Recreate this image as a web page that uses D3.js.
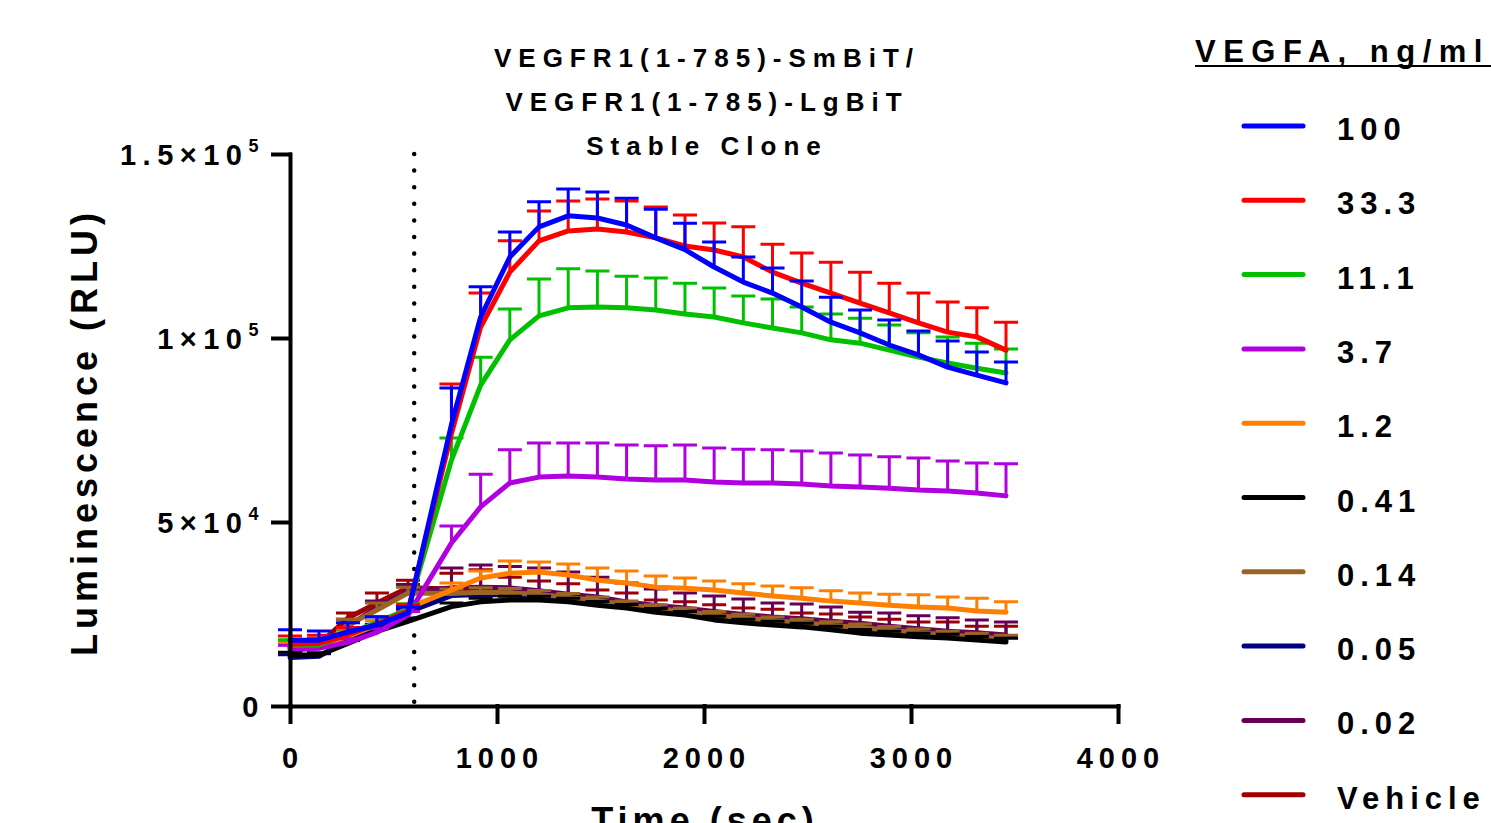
<!DOCTYPE html>
<html lang="en">
<head>
  <meta charset="UTF-8">
  <title>VEGFR1 NanoBiT kinetics</title>
  <style>
    body { margin: 0; background: #fff; }
    svg { display: block; font-family: "Liberation Sans", Arial, sans-serif; font-weight: bold; }
  </style>
</head>
<body>
  <script src="https://d3js.org/d3.v7.min.js"></script>
  <script>
    // time points (sec); VEGFA added at 600 s
    const timeSec = [0, 140, 280, 420, 570, 780, 921, 1062, 1203, 1344, 1485, 1626, 1767, 1908,
      2049, 2190, 2331, 2472, 2613, 2754, 2895, 3036, 3177, 3318, 3459];
    const additionTime = 600;

    // mean luminescence (RLU) and SD per VEGFA dose
    const v100 = [17900, 17900, 20100, 22000, 25300, 76500, 105700, 122000, 130200, 133200, 132600, 130700, 127200, 124000,
      119300, 115200, 112200, 108400, 104300, 101400, 98100, 95400, 92100, 89900, 87800];
    const v100Err = [2800, 2500, 2500, 2200, 1600, 9900, 8200, 6800, 6800, 7300, 7100, 7300, 7800, 7200,
      6800, 6800, 6800, 7100, 6800, 6200, 6800, 6500, 7100, 6300, 5700];
    const v33 = [16800, 17000, 19300, 22300, 25800, 74000, 103000, 117900, 126400, 129100, 129600, 128800, 127200, 125000,
      123900, 122000, 117900, 114900, 112200, 109500, 106800, 104100, 101600, 100300, 96700];
    const v33Err = [2200, 2200, 2000, 2000, 1800, 13500, 9200, 8500, 8100, 8100, 8200, 8400, 8400, 8400,
      7350, 8200, 7600, 8200, 8400, 8400, 8100, 8100, 8200, 7900, 7600];
    const v11 = [16500, 16600, 19500, 22800, 26200, 66800, 87200, 99500, 106000, 108200, 108400, 108200, 107600, 106500,
      105700, 104100, 102700, 101400, 99500, 98600, 96700, 94800, 93200, 91800, 90500];
    const v11Err = [1500, 1500, 1500, 1500, 1500, 6000, 7600, 8400, 10000, 10600, 9800, 8600, 8700, 8400,
      7900, 7300, 7900, 7000, 7000, 6800, 6800, 6600, 7100, 6800, 6500];
    const v3_7 = [15500, 15700, 17300, 20000, 24700, 44300, 54100, 60600, 62200, 62500, 62200, 61700, 61400, 61400,
      60900, 60600, 60600, 60300, 59800, 59500, 59200, 58700, 58400, 57900, 57100];
    const v3_7Err = [1000, 1000, 1000, 1000, 1000, 4600, 8900, 9000, 9300, 9000, 9300, 9200, 9300, 9500,
      9200, 9200, 9000, 9000, 8950, 8700, 8500, 8700, 8200, 8100, 8700];
    const v1_2 = [16000, 16200, 18900, 22000, 26600, 31500, 34800, 36100, 36400, 35600, 34200, 33400, 32300, 32000,
      31500, 30700, 29900, 29300, 28500, 28000, 27400, 26900, 26600, 25800, 25500];
    const v1_2Err = [1200, 1200, 1200, 1200, 1200, 1900, 1900, 3300, 2700, 3000, 3300, 3300, 3000, 2800,
      2500, 2500, 2700, 2800, 2800, 2700, 3000, 3300, 3000, 3500, 2800];
    const v0_41 = [13900, 13800, 17000, 20300, 23000, 27000, 28300, 28800, 28800, 28300, 27400, 26600, 25500, 24700,
      23400, 22600, 22000, 21500, 20700, 19800, 19300, 18800, 18500, 17900, 17400];
    const v0_41Err = [700, 700, 800, 800, 900, 1000, 1000, 1000, 1000, 1000, 1000, 1000, 1000, 1000,
      1000, 1000, 1000, 1000, 1000, 1000, 1000, 1000, 1000, 1000, 1000];
    const v0_14 = [15000, 15800, 22000, 26100, 30700, 30600, 30900, 30800, 30300, 29500, 28600, 27500, 26500, 25600,
      24700, 23900, 23200, 22600, 21900, 21300, 20600, 19900, 19300, 18800, 18200];
    const v0_14Err = [1600, 1600, 1600, 1900, 1600, 1200, 1200, 1100, 1100, 1100, 1000, 1000, 1000, 1000,
      1000, 1000, 1000, 1000, 1000, 1000, 1000, 1000, 1000, 1000, 1000];
    const v0_05 = [13200, 13500, 17800, 21500, 25500, 30000, 30300, 30200, 29700, 29000, 28100, 27000, 26000, 25200,
      24300, 23500, 22800, 22200, 21500, 20900, 20200, 19500, 18900, 18400, 17900];
    const v0_05Err = [700, 700, 700, 700, 700, 700, 700, 700, 700, 700, 700, 700, 700, 700,
      700, 700, 700, 700, 700, 700, 700, 700, 700, 700, 700];
    const v0_02 = [15800, 16400, 21800, 26700, 31200, 32100, 32300, 32100, 31300, 30400, 29600, 28300, 27300, 26600,
      25700, 24900, 24200, 23700, 23000, 22500, 21700, 21000, 20300, 19900, 19300];
    const v0_02Err = [1800, 1800, 1800, 1800, 1800, 5400, 6000, 5800, 6200, 6000, 5400, 5100, 4500, 4100,
      4200, 4200, 3800, 4000, 3900, 3000, 3600, 3500, 3700, 3500, 3500];
    const vehicle = [16000, 16800, 23900, 28000, 32100, 31800, 32000, 31700, 31000, 30100, 29300, 28000, 27000, 26300,
      25400, 24600, 23900, 23400, 22700, 22200, 21400, 20700, 20000, 19600, 19000];
    const vehicleErr = [1400, 1400, 1400, 2700, 2100, 4300, 5000, 3300, 3000, 3100, 2200, 2700, 1800, 2000,
      2100, 2000, 2400, 1900, 2300, 2000, 2200, 2100, 2800, 2100, 2700];

    const doseLabels = ["100", "33.3", "11.1", "3.7", "1.2", "0.41", "0.14", "0.05", "0.02", "Vehicle"];
    const doseColors = ["#0000ff", "#ff0000", "#00c000", "#b000e0", "#ff8000", "#000000", "#9a6424", "#000080", "#650055", "#a00000"];
    const doseMeans = [v100, v33, v11, v3_7, v1_2, v0_41, v0_14, v0_05, v0_02, vehicle];
    const doseErrs = [v100Err, v33Err, v11Err, v3_7Err, v1_2Err, v0_41Err, v0_14Err, v0_05Err, v0_02Err, vehicleErr];

    const xTicks = [0, 1000, 2000, 3000, 4000];
    const yTicks = [0, 50000, 100000, 150000];
    const yTickBase = ["0", "5\u00d710", "1\u00d710", "1.5\u00d710"];
    const yTickExp = ["", "4", "5", "5"];
    const titleLines = ["VEGFR1(1-785)-SmBiT/", "VEGFR1(1-785)-LgBiT", "Stable Clone"];

    const series = doseLabels.map((name, i) => ({
      name,
      color: doseColors[i],
      points: timeSec.map((t, j) => ({ t, mean: doseMeans[i][j], err: doseErrs[i][j] }))
    }));

    const W = 1491, H = 823;
    const svg = d3.select("body").append("svg").attr("width", W).attr("height", H);

    const x = d3.scaleLinear().domain([0, 4000]).range([290, 1118]);
    const y = d3.scaleLinear().domain([0, 150000]).range([706, 154]);

    // title
    svg.append("g").selectAll("text")
      .data(titleLines)
      .enter().append("text")
        .attr("x", 707)
        .attr("y", (d, i) => 67 + i * 44)
        .attr("text-anchor", "middle")
        .style("font-size", "26px")
        .style("letter-spacing", "7px")
        .text(d => d);

    // dotted line at VEGFA addition
    svg.append("line")
      .attr("x1", x(additionTime)).attr("x2", x(additionTime))
      .attr("y1", y(150000)).attr("y2", y(0))
      .attr("stroke", "#000")
      .attr("stroke-width", 4.5)
      .attr("stroke-linecap", "round")
      .attr("stroke-dasharray", "0,16.6");

    // data: draw from Vehicle up so 100 ng/ml ends on top
    const line = d3.line().x(d => x(d.t)).y(d => y(d.mean));
    const plot = svg.append("g");
    series.slice().reverse().forEach(s => {
      const g = plot.append("g");
      g.selectAll(".bar")
        .data(s.points)
        .enter().append("path")
          .attr("fill", "none")
          .attr("stroke", s.color)
          .attr("stroke-width", 3)
          .attr("d", d => {
            const top = y(d.mean + d.err);
            return `M${x(d.t)},${y(d.mean)}V${top}M${x(d.t) - 12},${top}H${x(d.t) + 12}`;
          });
      g.append("path")
        .datum(s.points)
        .attr("fill", "none")
        .attr("stroke", s.color)
        .attr("stroke-width", 5)
        .attr("stroke-linejoin", "round")
        .attr("stroke-linecap", "round")
        .attr("d", line);
    });

    // axes
    const xAxis = svg.append("g")
      .attr("transform", `translate(0,${y(0)})`)
      .call(d3.axisBottom(x).tickValues(xTicks).tickSize(16).tickSizeOuter(0).tickFormat(""));
    const yAxis = svg.append("g")
      .attr("transform", `translate(${x(0)},0)`)
      .call(d3.axisLeft(y).tickValues(yTicks).tickSize(17).tickSizeOuter(0).tickFormat(""));
    [xAxis, yAxis].forEach(a => {
      a.selectAll(".domain, .tick line")
        .attr("stroke", "#000")
        .attr("stroke-width", 4)
        .attr("stroke-linecap", "square");
    });

    svg.append("g").selectAll("text")
      .data(xTicks)
      .enter().append("text")
        .attr("x", d => x(d) + 3)
        .attr("y", 768)
        .attr("text-anchor", "middle")
        .style("font-size", "29px")
        .style("letter-spacing", "6px")
        .text(d => d);

    const yLab = svg.append("g").selectAll("text")
      .data(yTicks)
      .enter().append("text")
        .attr("x", 265)
        .attr("y", d => y(d) + 11)
        .attr("text-anchor", "end")
        .style("font-size", "29px")
        .style("letter-spacing", "6.5px");
    yLab.append("tspan").text((d, i) => yTickBase[i]);
    yLab.append("tspan")
      .attr("dy", -13)
      .style("font-size", "18px")
      .text((d, i) => yTickExp[i]);

    // axis titles
    svg.append("text")
      .attr("transform", "translate(97,432) rotate(-90)")
      .attr("text-anchor", "middle")
      .style("font-size", "36px")
      .style("letter-spacing", "5px")
      .text("Luminescence (RLU)");
    svg.append("text")
      .attr("x", 705)
      .attr("y", 833)
      .attr("text-anchor", "middle")
      .style("font-size", "36px")
      .style("letter-spacing", "5px")
      .text("Time (sec)");

    // legend
    const legend = svg.append("g");
    legend.append("text")
      .attr("x", 1195)
      .attr("y", 62)
      .style("font-size", "31px")
      .style("letter-spacing", "7.5px")
      .text("VEGFA, ng/ml");
    legend.append("line")
      .attr("x1", 1195).attr("x2", 1491)
      .attr("y1", 66).attr("y2", 66)
      .attr("stroke", "#000").attr("stroke-width", 2);
    const item = legend.selectAll(".item")
      .data(series)
      .enter().append("g")
        .attr("transform", (d, i) => `translate(0,${126 + i * 74.3})`);
    item.append("line")
      .attr("x1", 1244).attr("x2", 1303)
      .attr("stroke", d => d.color)
      .attr("stroke-width", 5)
      .attr("stroke-linecap", "round");
    item.append("text")
      .attr("x", 1337)
      .attr("y", 14)
      .style("font-size", "31px")
      .style("letter-spacing", "6px")
      .text(d => d.name);
  </script>
</body>
</html>
